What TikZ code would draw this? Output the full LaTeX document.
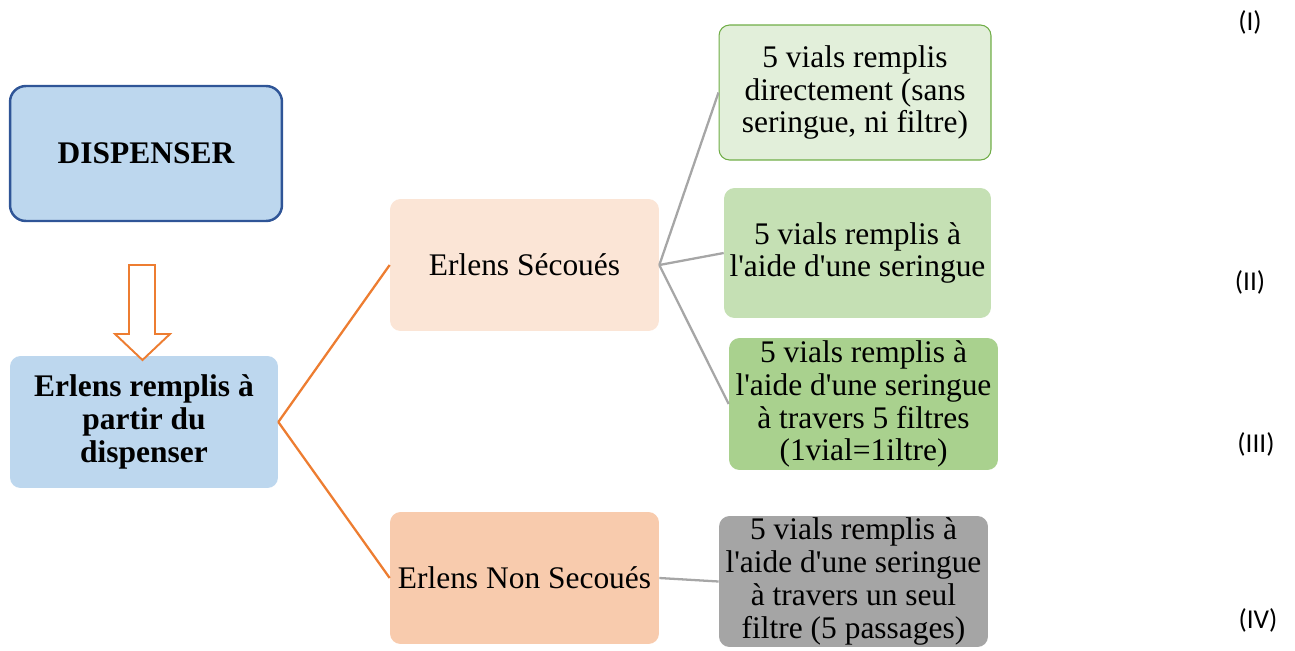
\documentclass[tikz,border=0pt]{standalone}
\usepackage{fontspec}
\setmainfont{Liberation Serif}
\newfontfamily\numfont{Carlito}
\usetikzlibrary{positioning}
\definecolor{bleuclair}{HTML}{BDD7EE}
\definecolor{bleufonce}{HTML}{2F5597}
\definecolor{pecheclair}{HTML}{FBE5D6}
\definecolor{peche}{HTML}{F8CBAD}
\definecolor{vertA}{HTML}{E2EFDA}
\definecolor{vertB}{HTML}{C5E0B4}
\definecolor{vertC}{HTML}{A9D18E}
\definecolor{vertbord}{HTML}{70AD47}
\definecolor{grisbox}{HTML}{A5A5A5}
\definecolor{grisligne}{HTML}{A6A6A6}
\definecolor{orange}{HTML}{ED7D31}
\newcommand{\ap}{\textquotesingle}
\begin{document}
\begin{tikzpicture}[
    x=0.02cm, y=-0.02cm,
    box/.style={rectangle, rounded corners=6pt, align=center, inner sep=0pt,
                minimum width=5.38cm, minimum height=2.64cm,
                font=\fontsize{17.9}{18.7}\selectfont},
    bbox/.style={box, fill=bleuclair, font=\fontsize{17.9}{18.7}\selectfont\bfseries},
    num/.style={font=\fontsize{15.5}{17}\selectfont\numfont},
    olink/.style={draw=orange, line width=1.3pt},
    glink/.style={draw=grisligne, line width=1.3pt},
    hollow/.style={draw=orange, line width=1.1pt, fill=white, line join=miter}
]
\useasboundingbox (0,0) rectangle (1295,650);
\node[bbox, draw=bleufonce, line width=1.4pt, rounded corners=9pt,
      minimum width=5.44cm, minimum height=2.7cm] (disp) at (146,153.5) {DISPENSER};
\node[bbox, minimum width=5.36cm] (remplis) at (144,422) {Erlens remplis à\\partir du\\dispenser};
\node[box, fill=pecheclair] (secoues) at (524.5,265) {Erlens Sécoués};
\node[box, fill=peche] (nonsec) at (524.5,578) {Erlens Non Secoués};
\node[box, fill=vertA, draw=vertbord, line width=0.6pt, minimum width=5.44cm, minimum height=2.7cm]
    (v1) at (855,92.5) {5 vials remplis\\directement (sans\\seringue, ni filtre)};
\node[box, fill=vertB, minimum width=5.34cm, minimum height=2.6cm]
    (v2) at (857.5,253) {5 vials remplis à\\l\ap aide d\ap une seringue};
\node[box, fill=vertC] (v3) at (863.5,404)
    {5 vials remplis à\\l\ap aide d\ap une seringue\\à travers 5 filtres\\(1vial=1iltre)};
\node[box, fill=grisbox, minimum height=2.62cm] (v4) at (853.5,581.5)
    {5 vials remplis à\\l\ap aide d\ap une seringue\\à travers un seul\\filtre (5 passages)};
\node[num] (n1) at (1250,22) {(I)};
\node[num] (n2) at (1250,282) {(II)};
\node[num] (n3) at (1256,444) {(III)};
\node[num] (n4) at (1258,620) {(IV)};
\draw[hollow] (129,265) -- (155,265) -- (155,334) -- (170,334) -- (142.5,360)
    -- (115,334) -- (129,334) -- cycle;
\draw[olink] (remplis.east) -- (secoues.west);
\draw[olink] (remplis.east) -- (nonsec.west);
\draw[glink] (secoues.east) -- (v1.west);
\draw[glink] (secoues.east) -- (v2.west);
\draw[glink] (secoues.east) -- (v3.west);
\draw[glink] (nonsec.east) -- (v4.west);
\end{tikzpicture}
\end{document}
